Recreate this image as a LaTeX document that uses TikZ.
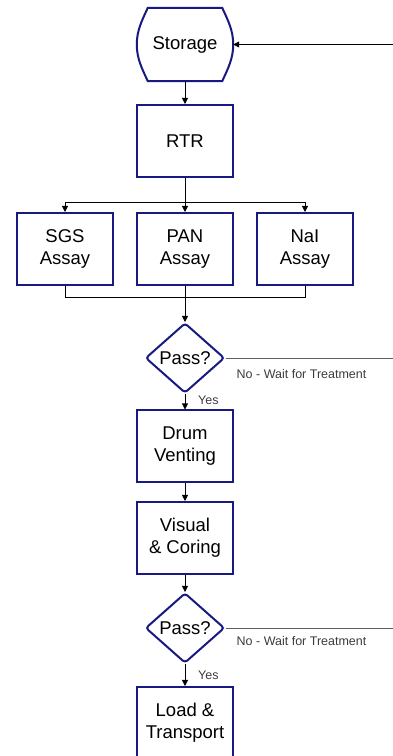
\documentclass[tikz,border=0pt]{standalone}
\usepackage{fontspec}
\setmainfont{Liberation Sans}
\usetikzlibrary{shapes.geometric,arrows.meta}

\definecolor{boxblue}{RGB}{25,25,130}
\definecolor{waitgray}{RGB}{95,95,95}
\definecolor{notegray}{RGB}{60,60,60}

\tikzset{
  proc/.style={draw=boxblue, line width=2pt, fill=white, minimum width=96pt,
    minimum height=72pt, inner sep=0pt, align=center,
    font=\fontsize{18.5}{22}\selectfont},
  test/.style={diamond, draw=boxblue, line width=2pt, rounded corners=3pt,
    fill=white, minimum width=79pt, minimum height=70pt, aspect=1.13,
    inner sep=0pt, font=\fontsize{18.5}{22}\selectfont},
  flow/.style={line width=0.8pt, -{Triangle[length=6pt,width=6pt]}},
  wire/.style={line width=0.8pt},
  wait/.style={line width=0.8pt, draw=waitgray},
  note/.style={text=notegray, inner sep=0pt, font=\fontsize{12.5}{15}\selectfont}
}

\begin{document}
\begin{tikzpicture}[x=1pt, y=1pt]
\useasboundingbox (0,0) rectangle (393,756);

% storage outline, flat top and bottom, bulging sides
\node[minimum width=96pt, minimum height=73pt, inner sep=0pt,
  font=\fontsize{18.5}{22}\selectfont] (storage) at (185,711.5) {Storage};
\draw[draw=boxblue, line width=2pt]
  ([xshift=11pt]storage.north west) -- ([xshift=-11pt]storage.north east)
  .. controls ([xshift=-5pt,yshift=-13pt]storage.north east) and ([yshift=14pt]storage.east) .. (storage.east)
  .. controls ([yshift=-14pt]storage.east) and ([xshift=-5pt,yshift=13pt]storage.south east) .. ([xshift=-11pt]storage.south east)
  -- ([xshift=11pt]storage.south west)
  .. controls ([xshift=5pt,yshift=13pt]storage.south west) and ([yshift=-14pt]storage.west) .. (storage.west)
  .. controls ([yshift=14pt]storage.west) and ([xshift=5pt,yshift=-13pt]storage.north west) .. ([xshift=11pt]storage.north west)
  -- cycle;

\node[proc] (rtr) at (185,615) {RTR};

\node[proc] (sgs) at (65,507) {SGS\\Assay};
\node[proc] (pan) at (185,507) {PAN\\Assay};
\node[proc] (nai) at (305,507) {NaI\\Assay};

\node[test] (pass1) at (185,398) {Pass?};
\node[proc] (vent) at (185,309.5) {Drum\\Venting};
\node[proc] (coring) at (185,218) {Visual\\\& Coring};
\node[test] (pass2) at (185,128) {Pass?};
\node[proc] (load) at (185,33) {Load \&\\Transport};

\coordinate (back) at (393,711.5);
\coordinate (split) at (185,554);
\coordinate (join) at (185,459);
\coordinate (wait1) at (393,398);
\coordinate (wait2) at (393,128);

\draw[flow] (back) -- (storage.east);
\draw[flow] (storage) -- (rtr);

\draw[wire] (rtr) -- (split);
\draw[wire] (split -| sgs) -- (split -| nai);
\foreach \a in {sgs,pan,nai}
  \draw[flow] (split -| \a) -- (\a);

\draw[wire] (sgs) -- (join -| sgs) -- (join -| nai) -- (nai);
\draw[flow] (pan) -- (pass1);

\draw[flow] (pass1) -- (vent);
\draw[flow] (vent) -- (coring);
\draw[flow] (coring) -- (pass2);
\draw[flow] (pass2) -- (load);

\draw[wait] (pass1.east) -- (wait1);
\draw[wait] (pass2.east) -- (wait2);

\node[note, anchor=west] (no1) at ([xshift=11pt,yshift=-16pt]pass1.east) {No - Wait for Treatment};
\node[note, anchor=west] (no2) at ([xshift=11pt,yshift=-13pt]pass2.east) {No - Wait for Treatment};
\node[note, anchor=west] (yes1) at ([xshift=13pt,yshift=-6pt]pass1.south) {Yes};
\node[note, anchor=west] (yes2) at ([xshift=13pt,yshift=-11pt]pass2.south) {Yes};
\end{tikzpicture}
\end{document}
